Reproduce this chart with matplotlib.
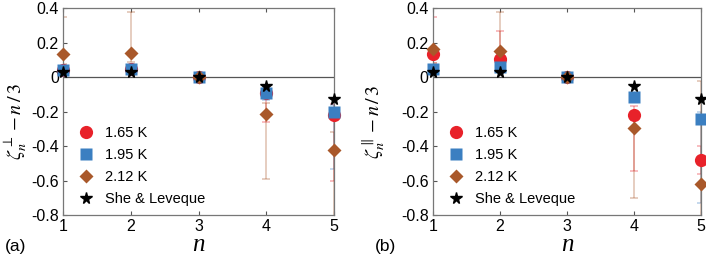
import numpy as np
import matplotlib
matplotlib.use('Agg')
import matplotlib.pyplot as plt

plt.rcParams['font.family'] = ['Liberation Sans', 'DejaVu Sans']
plt.rcParams['mathtext.fontset'] = 'stix'

n = [1, 2, 3, 4, 5]
labels = ['1.65 K', '1.95 K', '2.12 K', 'She & Leveque']

# She & Leveque prediction, zeta_n - n/3
sl = [0.031, 0.029, 0.0, -0.054, -0.129]

# panel (a): perpendicular
red_a = [0.040, 0.045, 0.0, -0.095, -0.220]
red_a_lo = [0.020, 0.025, 0.0, -0.260, -0.600]
red_a_hi = [0.060, 0.065, 0.0, -0.070, -0.157]
blue_a = [0.040, 0.045, 0.0, -0.095, -0.205]
blue_a_lo = [0.025, 0.030, 0.0, -0.135, -0.535]
blue_a_hi = [0.055, 0.060, 0.0, -0.060, -0.160]
brown_a = [0.135, 0.140, 0.0, -0.215, -0.425]
brown_a_lo = [0.075, 0.085, 0.0, -0.590, -0.950]
brown_a_hi = [0.350, 0.375, 0.0, -0.150, -0.320]

# panel (b): parallel
red_b = [0.131, 0.102, 0.0, -0.218, -0.481]
red_b_lo = [0.080, 0.060, 0.0, -0.545, -0.560]
red_b_hi = [0.346, 0.267, 0.0, -0.170, -0.400]
blue_b = [0.046, 0.056, 0.0, -0.114, -0.245]
blue_b_lo = [0.030, 0.040, 0.0, -0.140, -0.730]
blue_b_hi = [0.060, 0.070, 0.0, -0.090, -0.205]
brown_b = [0.161, 0.153, 0.0, -0.294, -0.618]
brown_b_lo = [0.080, 0.090, 0.0, -0.700, -0.950]
brown_b_hi = [0.420, 0.375, 0.0, -0.250, -0.020]

c_red = '#e8222a'
c_blue = '#3b7fc1'
c_brown = '#a9582a'


def panel(ax, red, red_lo, red_hi, blue, blue_lo, blue_hi, brown, brown_lo, brown_hi, ylab, tag, labx):
    ax.axhline(0, color='#555555', lw=0.9, zorder=1)
    sets = [(red, red_lo, red_hi, c_red, 'o', 9.5),
            (blue, blue_lo, blue_hi, c_blue, 's', 8),
            (brown, brown_lo, brown_hi, c_brown, 'D', 7.5)]
    for lab, (y, lo, hi, c, m, ms) in zip(labels, sets):
        y = np.array(y)
        err = [y - np.array(lo), np.array(hi) - y]
        ax.errorbar(n, y, yerr=err, fmt='none', ecolor=c, alpha=0.35,
                    elinewidth=1.2, capsize=3, capthick=1.2, zorder=2)
        ax.plot(n, y, m, color=c, ms=ms, mec='none', label=lab,
                clip_on=False, zorder=3)
    ax.plot(n, sl, '*', color='black', ms=8.5, label=labels[3],
            clip_on=False, zorder=4)
    ax.set_xlim(1, 5)
    ax.set_ylim(-0.8, 0.4)
    ax.set_xticks(n)
    ax.set_yticks([-0.8, -0.6, -0.4, -0.2, 0, 0.2, 0.4])
    ax.set_yticklabels(['-0.8', '-0.6', '-0.4', '-0.2', '0', '0.2', '0.4'])
    ax.tick_params(direction='in', labelsize=11.5, length=3, color='#555555',
                   top=True, pad=3)
    for s in ax.spines.values():
        s.set_color('#777777')
        s.set_linewidth(0.9)
    ax.set_xlabel('n', family='Liberation Serif', style='italic',
                  fontsize=18, labelpad=0)
    ax.set_ylabel(ylab, fontsize=14.5)
    ax.yaxis.set_label_coords(labx, 0.45)
    ax.legend(loc='lower left', bbox_to_anchor=(0.0, 0.0), frameon=False,
              fontsize=10.5, handletextpad=0.3, labelspacing=0.55,
              borderaxespad=0.3, borderpad=0.3)
    ax.text(-0.215, -0.15, tag, transform=ax.transAxes, fontsize=12.5,
            ha='left', va='center')


fig = plt.figure(figsize=(7.06, 2.61), dpi=100)
ax1 = fig.add_axes([0.0892, 0.176, 0.384, 0.793])
ax2 = fig.add_axes([0.613, 0.176, 0.380, 0.793])

panel(ax1, red_a, red_a_lo, red_a_hi, blue_a, blue_a_lo, blue_a_hi,
      brown_a, brown_a_lo, brown_a_hi, r'$\zeta_n^{\perp}-n\,/\,3$', '(a)', -0.125)
panel(ax2, red_b, red_b_lo, red_b_hi, blue_b, blue_b_lo, blue_b_hi,
      brown_b, brown_b_lo, brown_b_hi, r'$\zeta_n^{\parallel}-n\,/\,3$', '(b)', -0.17)

fig.savefig('out.png', dpi=100)
